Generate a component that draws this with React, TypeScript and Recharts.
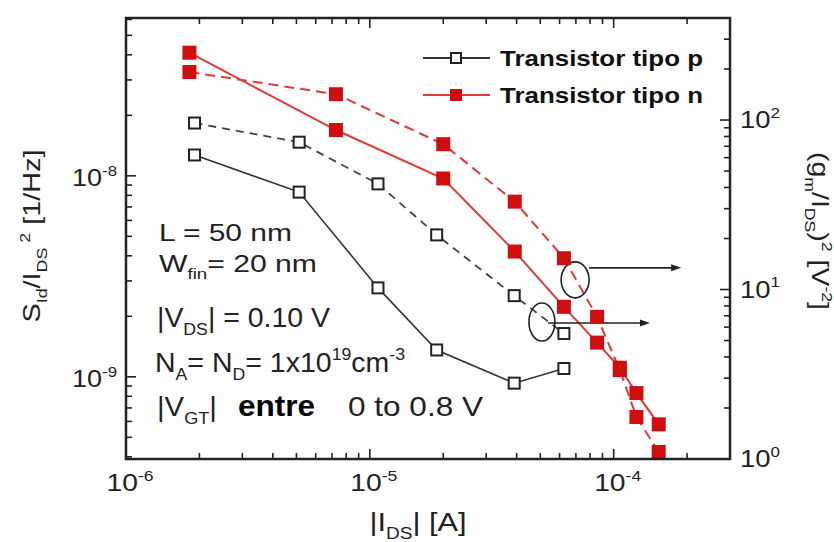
import React from 'react';
import { LineChart, Line, XAxis, YAxis, ReferenceDot, Legend } from 'recharts';

// |I_DS| [A]
const currentP = [1.91e-6, 5.13e-6, 1.08e-5, 1.88e-5, 3.91e-5, 6.25e-5];
const currentN = [1.82e-6, 7.26e-6, 2.0e-5, 3.93e-5, 6.25e-5, 8.55e-5, 1.06e-4, 1.24e-4, 1.53e-4];
// S_Id / I_DS^2 [1/Hz]  -> left axis, solid lines
const noiseP = [1.27e-8, 8.3e-9, 2.77e-9, 1.36e-9, 9.3e-10, 1.1e-9];
const noiseN = [4.1e-8, 1.69e-8, 9.7e-9, 4.2e-9, 2.23e-9, 1.48e-9, 1.11e-9, 8.3e-10, 5.8e-10];
// (gm / I_DS)^2 [V^-2]  -> right axis, dashed lines
const gmP = [96, 74, 42, 21, 9.2, 5.5];
const gmN = [192, 142, 72, 33, 15.3, 6.9, 3.35, 1.77, 1.1];

const seriesNames = ['Transistor tipo p', 'Transistor tipo n'];

const xDomain = [1e-6, 3e-4];
const leftDomain = [3.9e-10, 6.1e-8];
const rightDomain = [1, 400];

const pData = currentP.map((x, i) => ({ x, noise: noiseP[i], gm: gmP[i] }));
const nData = currentN.map((x, i) => ({ x, noise: noiseN[i], gm: gmN[i] }));

const INK = '#222';
const RED_LINE = '#e03a3a';
const RED_FILL = '#cf0f0f';
const FONT = '"Liberation Sans", Arial, Helvetica, sans-serif';

// plot frame (margin.left + y axis width etc.)
const FRAME = { left: 126, right: 730, top: 18, bottom: 459 };

// 1,2,...,9 x 10^n ticks inside a range
const logTicks = (lo: number, hi: number) => {
  const out: number[] = [];
  for (let e = Math.floor(Math.log10(lo)); e <= Math.ceil(Math.log10(hi)); e++) {
    for (let m = 1; m < 10; m++) {
      const v = m * Math.pow(10, e);
      if (v >= lo * 0.999 && v <= hi * 1.001) out.push(v);
    }
  }
  return out;
};
const isDecade = (v: number) => Math.abs(Math.log10(v) - Math.round(Math.log10(v))) < 1e-6;
const expOf = (v: number) => Math.round(Math.log10(v));

type Seg = { t: string; s?: 'sub' | 'sup' };
// text with sub/superscripts
const rich = (segs: Seg[], size: number) => {
  let cur = 0;
  return segs.map((seg, i) => {
    const target = seg.s === 'sub' ? size * 0.3 : seg.s === 'sup' ? -size * 0.42 : 0;
    const dy = target - cur;
    cur = target;
    return (
      <tspan key={i} dy={dy} fontSize={seg.s ? size * 0.62 : size}>
        {seg.t}
      </tspan>
    );
  });
};

const Pow10 = ({ x, y, e, anchor, w }: { x: number; y: number; e: number; anchor: string; w: number }) => (
  <text x={x} y={y} textAnchor={anchor as any} fill={INK} fontFamily={FONT} textLength={w} lengthAdjust="spacingAndGlyphs">
    {rich([{ t: '10' }, { t: String(e), s: 'sup' }], 24)}
  </text>
);

// bottom ticks point up into the plot; the top edge gets the same ticks pointing down
const XTick = (props: any) => {
  const { x, y, payload } = props;
  const v = payload.value;
  const major = isDecade(v);
  const len = major ? 10 : 6;
  return (
    <g>
      <line x1={x} x2={x} y1={y} y2={y - len} stroke={INK} strokeWidth={1.6} />
      <line x1={x} x2={x} y1={FRAME.top} y2={FRAME.top + len} stroke={INK} strokeWidth={1.6} />
      {major && <Pow10 x={x + 4} y={y + 32} e={expOf(v)} anchor="middle" w={47} />}
    </g>
  );
};

const YTick = (props: any) => {
  const { x, y, payload, side } = props;
  const v = payload.value;
  const major = isDecade(v);
  const len = major ? 10 : 6;
  const dir = side === 'left' ? 1 : -1;
  return (
    <g>
      <line x1={x} x2={x + dir * len} y1={y} y2={y} stroke={INK} strokeWidth={1.6} />
      {major &&
        (side === 'left' ? (
          <Pow10 x={x - 9} y={y + 10} e={expOf(v)} anchor="end" w={45} />
        ) : (
          <Pow10 x={x + 10} y={y + 8} e={expOf(v)} anchor="start" w={40} />
        ))}
    </g>
  );
};

const XTitle = () => (
  <text x={418} y={531} textAnchor="middle" fill={INK} fontFamily={FONT} textLength={97} lengthAdjust="spacingAndGlyphs">
    {rich([{ t: '|I' }, { t: 'DS', s: 'sub' }, { t: '| [A]' }], 26)}
  </text>
);

const LeftTitle = () => (
  <text x={40} y={236} transform="rotate(-90 40 236)" textAnchor="middle" fill={INK} fontFamily={FONT} textLength={173} lengthAdjust="spacingAndGlyphs">
    {rich([{ t: 'S' }, { t: 'Id', s: 'sub' }, { t: '/I' }, { t: 'DS', s: 'sub' }, { t: ' 2', s: 'sup' }, { t: ' [1/Hz]' }], 24)}
  </text>
);

const RightTitle = () => (
  <text x={812} y={231} transform="rotate(90 812 231)" textAnchor="middle" fill={INK} fontFamily={FONT} textLength={158} lengthAdjust="spacingAndGlyphs">
    {rich([{ t: '(g' }, { t: 'm', s: 'sub' }, { t: '/I' }, { t: 'DS', s: 'sub' }, { t: ')' }, { t: '2', s: 'sup' }, { t: ' [V' }, { t: '-2', s: 'sup' }, { t: ']' }], 24)}
  </text>
);

const openSquare = (size: number) => (props: any) => {
  const { cx, cy, index } = props;
  return <rect key={`o-${index}`} x={cx - size / 2} y={cy - size / 2} width={size} height={size} fill="#fff" stroke={INK} strokeWidth={2} />;
};
const redSquare = (size: number) => (props: any) => {
  const { cx, cy, index } = props;
  return <rect key={`r-${index}`} x={cx - size / 2} y={cy - size / 2} width={size} height={size} fill={RED_FILL} />;
};

// circled points with an arrow pointing to the right-hand axis
const circleArrow = (rx: number, ry: number, dyArrow: number, xStart: number, xEnd: number) => (props: any) => {
  const { cx, cy } = props;
  const ay = cy + dyArrow;
  return (
    <g>
      <ellipse cx={cx} cy={cy} rx={rx} ry={ry} fill="none" stroke={INK} strokeWidth={1.6} />
      <line x1={cx + xStart} x2={cx + xEnd - 8} y1={ay} y2={ay} stroke={INK} strokeWidth={1.6} />
      <polygon points={`${cx + xEnd},${ay} ${cx + xEnd - 10},${ay - 3.5} ${cx + xEnd - 10},${ay + 3.5}`} fill={INK} />
    </g>
  );
};

const LegendBox = () => (
  <svg width={310} height={75} style={{ overflow: 'visible' }}>
    <line x1={5} x2={72} y1={18} y2={18} stroke="#333" strokeWidth={2} />
    <rect x={33} y={13} width={10} height={10} fill="#fff" stroke={INK} strokeWidth={2} />
    <text x={82} y={26} fontFamily={FONT} fontSize={22} fontWeight="bold" fill="#111" textLength={203} lengthAdjust="spacingAndGlyphs">
      {seriesNames[0]}
    </text>
    <line x1={5} x2={72} y1={55} y2={55} stroke={RED_LINE} strokeWidth={2} />
    <rect x={32} y={49} width={12} height={12} fill={RED_FILL} />
    <text x={82} y={63} fontFamily={FONT} fontSize={22} fontWeight="bold" fill="#111" textLength={203} lengthAdjust="spacingAndGlyphs">
      {seriesNames[1]}
    </text>
  </svg>
);

const Note = ({ x, y, w, size, segs, bold }: { x: number; y: number; w: number; size: number; segs: Seg[]; bold?: boolean }) => (
  <text x={x} y={y} fill={bold ? '#000' : INK} fontFamily={FONT} fontWeight={bold ? 'bold' : 'normal'} textLength={w} lengthAdjust="spacingAndGlyphs">
    {rich(segs, size)}
  </text>
);

const xTicks = logTicks(xDomain[0], xDomain[1]);
const leftTicks = logTicks(leftDomain[0], leftDomain[1]);
const rightTicks = logTicks(rightDomain[0], rightDomain[1]);

export default function App() {
  return (
    <div style={{ position: 'absolute', left: 0, top: 0, width: 834, height: 542, background: '#fff', fontFamily: FONT }}>
      <LineChart width={834} height={542} margin={{ top: FRAME.top, right: 0, bottom: 0, left: 0 }}>
        <XAxis
          dataKey="x"
          type="number"
          scale="log"
          domain={xDomain}
          allowDataOverflow
          ticks={xTicks}
          interval={0}
          tickSize={0}
          tickMargin={0}
          tickLine={false}
          height={83}
          axisLine={{ stroke: INK, strokeWidth: 2 }}
          tick={(p: any) => <XTick {...p} />}
          label={<XTitle />}
        />
        <YAxis
          yAxisId="left"
          type="number"
          scale="log"
          domain={leftDomain}
          allowDataOverflow
          ticks={leftTicks}
          interval={0}
          tickSize={0}
          tickMargin={0}
          tickLine={false}
          width={126}
          axisLine={{ stroke: INK, strokeWidth: 2 }}
          tick={(p: any) => <YTick {...p} side="left" />}
          label={<LeftTitle />}
        />
        <YAxis
          yAxisId="right"
          orientation="right"
          type="number"
          scale="log"
          domain={rightDomain}
          allowDataOverflow
          ticks={rightTicks}
          interval={0}
          tickSize={0}
          tickMargin={0}
          tickLine={false}
          width={104}
          axisLine={{ stroke: INK, strokeWidth: 2 }}
          tick={(p: any) => <YTick {...p} side="right" />}
          label={<RightTitle />}
        />
        <Legend layout="vertical" align="center" verticalAlign="middle" wrapperStyle={{ left: 418, top: 40, width: 310, height: 75 }} content={() => <LegendBox />} />

        <Line data={pData} dataKey="noise" yAxisId="left" name={seriesNames[0]} stroke="#333" strokeWidth={1.6} dot={openSquare(11)} isAnimationActive={false} />
        <Line data={pData} dataKey="gm" yAxisId="right" stroke="#444" strokeWidth={1.8} strokeDasharray="8 6" dot={openSquare(11)} isAnimationActive={false} legendType="none" />
        <Line data={nData} dataKey="noise" yAxisId="left" name={seriesNames[1]} stroke={RED_LINE} strokeWidth={2} dot={redSquare(14)} isAnimationActive={false} />
        <Line data={nData} dataKey="gm" yAxisId="right" stroke={RED_LINE} strokeWidth={2} strokeDasharray="10 6" dot={redSquare(14)} isAnimationActive={false} legendType="none" />

        <ReferenceDot x={6.95e-5} y={11.4} yAxisId="right" shape={circleArrow(14, 18, -12, 14, 106)} />
        <ReferenceDot x={5.08e-5} y={6.43} yAxisId="right" shape={circleArrow(13, 19, 1, 6, 108)} />
      </LineChart>

      <svg width={834} height={542} style={{ position: 'absolute', left: 0, top: 0, pointerEvents: 'none' }}>
        {/* plot frame, drawn whole so the top edge is closed */}
        <rect x={FRAME.left} y={FRAME.top} width={FRAME.right - FRAME.left} height={FRAME.bottom - FRAME.top} fill="none" stroke={INK} strokeWidth={2.5} />
        <Note x={159} y={241} w={133} size={24} segs={[{ t: 'L = 50 nm' }]} />
        <Note x={159} y={272} w={158} size={24} segs={[{ t: 'W' }, { t: 'fin', s: 'sub' }, { t: '= 20 nm' }]} />
        <Note x={157} y={327} w={173} size={28} segs={[{ t: '|V' }, { t: 'DS', s: 'sub' }, { t: '| = 0.10 V' }]} />
        <Note x={155} y={372} w={250} size={28} segs={[{ t: 'N' }, { t: 'A', s: 'sub' }, { t: '= N' }, { t: 'D', s: 'sub' }, { t: '= 1x10' }, { t: '19', s: 'sup' }, { t: 'cm' }, { t: '-3', s: 'sup' }]} />
        <Note x={157} y={416} w={60} size={28} segs={[{ t: '|V' }, { t: 'GT', s: 'sub' }, { t: '|' }]} />
        <Note x={238} y={416} w={77} size={29} bold segs={[{ t: 'entre' }]} />
        <Note x={348} y={416} w={135} size={28} segs={[{ t: '0 to 0.8 V' }]} />
      </svg>
    </div>
  );
}
